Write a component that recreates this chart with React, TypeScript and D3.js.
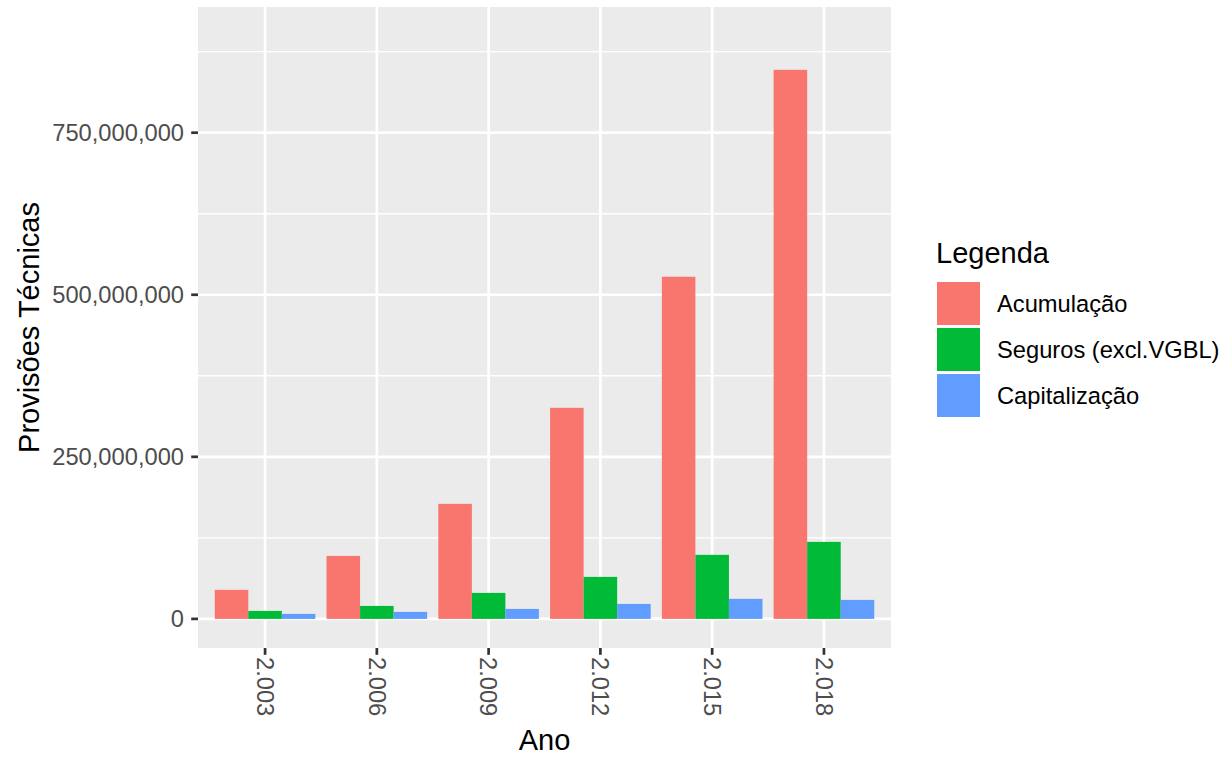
import React, { useEffect } from 'react';
import * as d3 from 'd3';

// Data
const years = ['2.003', '2.006', '2.009', '2.012', '2.015', '2.018'];
const seriesNames = ['Acumulação', 'Seguros (excl.VGBL)', 'Capitalização'];
const acumulacao = [44.8e6, 97.2e6, 177.5e6, 325.6e6, 527.8e6, 847e6];
const seguros = [12.3e6, 20e6, 40.1e6, 64.8e6, 98.8e6, 118.8e6];
const capitalizacao = [7.7e6, 10.8e6, 15.4e6, 23.1e6, 30.9e6, 29.3e6];
const yTicks = [0, 250e6, 500e6, 750e6];
const yMinorTicks = [125e6, 375e6, 625e6, 875e6];
const colors = ['#F8766D', '#00BA38', '#619CFF'];

const W = 1230;
const H = 761;
const panel = { left: 198, right: 891, top: 7, bottom: 648 };
const FONT = '"Liberation Sans", Arial, Helvetica, sans-serif';
const SMALL = 23.7;
const TITLE = 29;

const App: React.FC = () => {
  useEffect(() => {
    document.body.style.margin = '0';
  }, []);

  const values = [acumulacao, seguros, capitalizacao];

  const x = d3.scaleBand<string>()
    .domain(years)
    .range([panel.left, panel.right])
    .paddingInner(0.1)
    .paddingOuter(0.15);

  const xSub = d3.scaleBand<string>()
    .domain(seriesNames)
    .range([0, x.bandwidth()])
    .padding(0);

  const y = d3.scaleLinear()
    .domain([-44.9e6, 943.9e6])
    .range([panel.bottom, panel.top]);

  const fmt = d3.format(',');

  const legendX = 937;
  const legendTop = 282;
  const keyPitch = 46;
  const keySize = 43;

  return (
    <svg width={W} height={H} style={{ display: 'block', background: '#fff' }} fontFamily={FONT}>
      {/* panel background */}
      <rect x={panel.left} y={panel.top} width={panel.right - panel.left} height={panel.bottom - panel.top} fill="#EBEBEB" />

      {/* minor grid */}
      {yMinorTicks.map(t => (
        <line key={'ym' + t} x1={panel.left} x2={panel.right} y1={y(t)} y2={y(t)} stroke="#fff" strokeWidth={1.35} />
      ))}
      {/* major grid */}
      {yTicks.map(t => (
        <line key={'y' + t} x1={panel.left} x2={panel.right} y1={y(t)} y2={y(t)} stroke="#fff" strokeWidth={2.7} />
      ))}
      {years.map(yr => {
        const cx = (x(yr) ?? 0) + x.bandwidth() / 2;
        return <line key={'x' + yr} x1={cx} x2={cx} y1={panel.top} y2={panel.bottom} stroke="#fff" strokeWidth={2.7} />;
      })}

      {/* bars */}
      {years.map((yr, i) => (
        <g key={'g' + yr} transform={`translate(${x(yr)},0)`}>
          {seriesNames.map((s, j) => {
            const v = values[j][i];
            return (
              <rect
                key={s}
                x={xSub(s)}
                y={y(v)}
                width={xSub.bandwidth()}
                height={y(0) - y(v)}
                fill={colors[j]}
              />
            );
          })}
        </g>
      ))}

      {/* y axis */}
      {yTicks.map(t => (
        <g key={'yt' + t}>
          <line x1={panel.left - 6.8} x2={panel.left} y1={y(t)} y2={y(t)} stroke="#333333" strokeWidth={2.7} />
          <text x={panel.left - 14} y={y(t)} dy="0.35em" textAnchor="end" fontSize={SMALL} fill="#4D4D4D">{fmt(t)}</text>
        </g>
      ))}

      {/* x axis */}
      {years.map(yr => {
        const cx = (x(yr) ?? 0) + x.bandwidth() / 2;
        return (
          <g key={'xt' + yr}>
            <line x1={cx} x2={cx} y1={panel.bottom} y2={panel.bottom + 6.8} stroke="#333333" strokeWidth={2.7} />
            <text
              transform={`translate(${cx},${panel.bottom + 9}) rotate(90)`}
              dy="0.35em"
              textAnchor="start"
              fontSize={SMALL}
              fill="#4D4D4D"
            >{yr}</text>
          </g>
        );
      })}

      {/* axis titles */}
      <text x={(panel.left + panel.right) / 2} y={750} textAnchor="middle" fontSize={TITLE} fill="#000">Ano</text>
      <text
        transform={`translate(39,${(panel.top + panel.bottom) / 2}) rotate(-90)`}
        textAnchor="middle"
        fontSize={TITLE}
        fill="#000"
      >Provisões Técnicas</text>

      {/* legend */}
      <text x={legendX - 1} y={263} fontSize={TITLE} fill="#000">Legenda</text>
      {seriesNames.map((s, j) => (
        <g key={'lg' + s}>
          <rect x={legendX} y={legendTop + j * keyPitch} width={keySize} height={keySize} fill={colors[j]} />
          <text x={997} y={legendTop + j * keyPitch + keySize / 2} dy="0.35em" fontSize={SMALL} fill="#000">{s}</text>
        </g>
      ))}
    </svg>
  );
};

export default App;
